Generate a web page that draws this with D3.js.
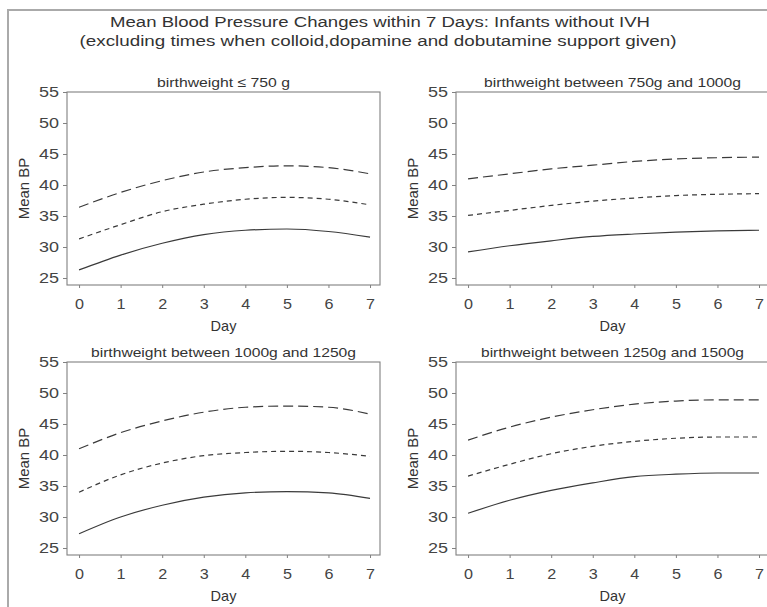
<!DOCTYPE html>
<html>
<head>
<meta charset="utf-8">
<script src="https://cdn.jsdelivr.net/npm/d3@7"></script>
<style>
  body { margin: 0; background: #fff; }
  svg { display: block; font-family: "Liberation Sans", Arial, sans-serif; }
</style>
</head>
<body>
<svg id="viz" width="767" height="607"></svg>
<script>
const days = [0, 1, 2, 3, 4, 5, 6, 7]
const yTicks = [25, 30, 35, 40, 45, 50, 55]
const panelTitles = [
    "birthweight \u2264 750 g",
    "birthweight between 750g and 1000g",
    "birthweight between 1000g and 1250g",
    "birthweight between 1250g and 1500g"
]
// widths of the scanned titles, the glyphs are wider than Arial
const panelTitleWidths = [133, 257, 265, 263]

// per panel: lower (solid), middle (short dash), upper (long dash)
const lowerBP = [
    [26.3, 28.7, 30.6, 32.0, 32.7, 32.9, 32.5, 31.6],
    [29.2, 30.2, 31.0, 31.7, 32.1, 32.4, 32.6, 32.7],
    [27.3, 30.0, 31.9, 33.2, 33.9, 34.1, 33.9, 33.0],
    [30.6, 32.7, 34.3, 35.5, 36.5, 36.9, 37.1, 37.1]
]
const middleBP = [
    [31.3, 33.6, 35.7, 36.9, 37.7, 38.0, 37.7, 36.8],
    [35.1, 35.9, 36.7, 37.4, 37.9, 38.3, 38.5, 38.6],
    [34.0, 36.8, 38.7, 39.9, 40.4, 40.6, 40.4, 39.8],
    [36.6, 38.5, 40.2, 41.4, 42.2, 42.7, 42.9, 42.9]
]
const upperBP = [
    [36.4, 38.8, 40.7, 42.1, 42.8, 43.1, 42.8, 41.8],
    [41.0, 41.8, 42.6, 43.2, 43.8, 44.2, 44.4, 44.5],
    [41.0, 43.6, 45.5, 46.9, 47.7, 47.9, 47.7, 46.6],
    [42.4, 44.5, 46.1, 47.3, 48.2, 48.7, 48.9, 48.9]
]

const svg = d3.select("#viz")
const ink = "#3a3a3a"
const textInk = "#333"

// outer frame (only top and left edges are visible in the picture)
svg.append("path")
    .attr("d", "M8,607 V10 H767")
    .attr("fill", "none")
    .attr("stroke", "#aaa")
    .attr("stroke-width", 2)

const title = svg.append("g")
    .attr("fill", textInk)
    .attr("font-size", 15.5)
    .attr("text-anchor", "middle")
title.append("text").attr("x", 380).attr("y", 27)
    .attr("textLength", 540).attr("lengthAdjust", "spacingAndGlyphs")
    .text("Mean Blood Pressure Changes within 7 Days: Infants without IVH")
title.append("text").attr("x", 378).attr("y", 46)
    .attr("textLength", 597).attr("lengthAdjust", "spacingAndGlyphs")
    .text("(excluding times when colloid,dopamine and dobutamine support given)")

const boxW = 313, boxH = 193
const cols = [67, 456], rows = [92, 362]

const series = [
    { data: lowerBP, dash: null },
    { data: middleBP, dash: "5,4" },
    { data: upperBP, dash: "10,5" }
]

panelTitles.forEach((t, i) => {
    const left = cols[i % 2], top = rows[Math.floor(i / 2)]
    const g = svg.append("g")

    const x = d3.scaleLinear().domain([-0.29, 7.24]).range([left, left + boxW])
    const y = d3.scaleLinear().domain([23.87, 55]).range([top + boxH, top])

    g.append("rect")
        .attr("x", left).attr("y", top)
        .attr("width", boxW).attr("height", boxH)
        .attr("fill", "none").attr("stroke", "#808080").attr("stroke-width", 1.1)

    const yAxis = g.append("g")
        .attr("transform", `translate(${left},0)`)
        .call(d3.axisLeft(y).tickValues(yTicks).tickSize(4).tickPadding(4))
    yAxis.select(".domain").remove()
    yAxis.selectAll(".tick text")
        .attr("textLength", 20).attr("lengthAdjust", "spacingAndGlyphs")

    const xAxis = g.append("g")
        .attr("transform", `translate(0,${top + boxH})`)
        .call(d3.axisBottom(x).tickValues(days).tickSize(3).tickPadding(11))
    xAxis.select(".domain").remove()
    xAxis.selectAll(".tick text")
        .attr("textLength", 9).attr("lengthAdjust", "spacingAndGlyphs")

    g.selectAll(".tick line").attr("stroke", "#808080")
    g.selectAll(".tick text")
        .attr("fill", "#444")
        .attr("font-size", 14)
        .attr("font-family", "Liberation Sans, Arial, sans-serif")

    g.append("text")
        .attr("x", left + boxW / 2).attr("y", top - 5)
        .attr("text-anchor", "middle")
        .attr("font-size", 13.5).attr("fill", textInk)
        .attr("textLength", panelTitleWidths[i]).attr("lengthAdjust", "spacingAndGlyphs")
        .text(t)

    g.append("text")
        .attr("x", left + boxW / 2).attr("y", top + boxH + 46)
        .attr("text-anchor", "middle")
        .attr("font-size", 14.5).attr("fill", textInk)
        .text("Day")

    g.append("text")
        .attr("transform", `translate(${left - 38},${top + boxH / 2}) rotate(-90)`)
        .attr("text-anchor", "middle")
        .attr("font-size", 15).attr("fill", textInk)
        .text("Mean BP")

    const line = d3.line()
        .x((d, k) => x(days[k]))
        .y(d => y(d))
        .curve(d3.curveMonotoneX)

    series.forEach(s => {
        g.append("path")
            .attr("d", line(s.data[i]))
            .attr("fill", "none")
            .attr("stroke", ink)
            .attr("stroke-width", 1.2)
            .attr("stroke-dasharray", s.dash)
    })
})
</script>
</body>
</html>
